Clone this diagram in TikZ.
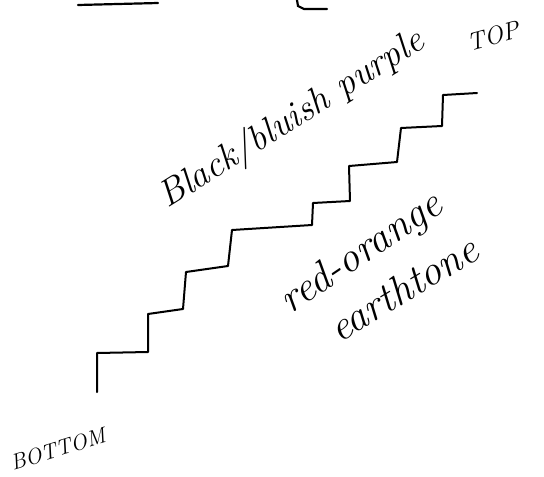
\documentclass[tikz,border=0pt]{standalone}
\usepackage{tikz}

\begin{document}
\begin{tikzpicture}[x=1pt, y=-1pt,
    stair/.style={draw=black, line width=2pt, line join=round, line cap=round},
    stroke/.style={draw=black, line width=2.2pt, line cap=round},
    note/.style={text=black, inner sep=0pt, font=\itshape\fontsize{37}{40}\selectfont},
    label/.style={text=black, inner sep=0pt, font=\itshape\fontsize{22}{24}\selectfont}
]
\useasboundingbox (0,0) rectangle (544,477);

% cut-off strokes at the top edge
\draw[stroke] (78,5) -- (158,3);
\draw[stroke] (297,0) -- (298,6) -- (304,9) -- (327,9);

% the staircase, bottom to top
\draw[stair] (97,392) -- (97,353) -- (148,352) -- (148,314) -- (183,309)
  -- (186,272) -- (228,266) -- (232,230) -- (312,225) -- (313,203)
  -- (350,201) -- (349,166) -- (397,162) -- (401,128) -- (442,126)
  -- (443,95) -- (477,93);

\node[note, rotate=32] (colourtop) at (292,120) {Black/bluish purple};
\node[label, rotate=15, font=\itshape\fontsize{25}{27}\selectfont] (top) at (493,36) {TOP};
\node[note, rotate=34, font=\itshape\fontsize{42}{44}\selectfont] (colourlow) at (362,254) {red-orange};
\node[note, rotate=31, font=\itshape\fontsize{42}{44}\selectfont] (colourlow2) at (403,288) {earthtone};
\node[label, rotate=17] (bottom) at (58,449) {BOTTOM};
\end{tikzpicture}
\end{document}
